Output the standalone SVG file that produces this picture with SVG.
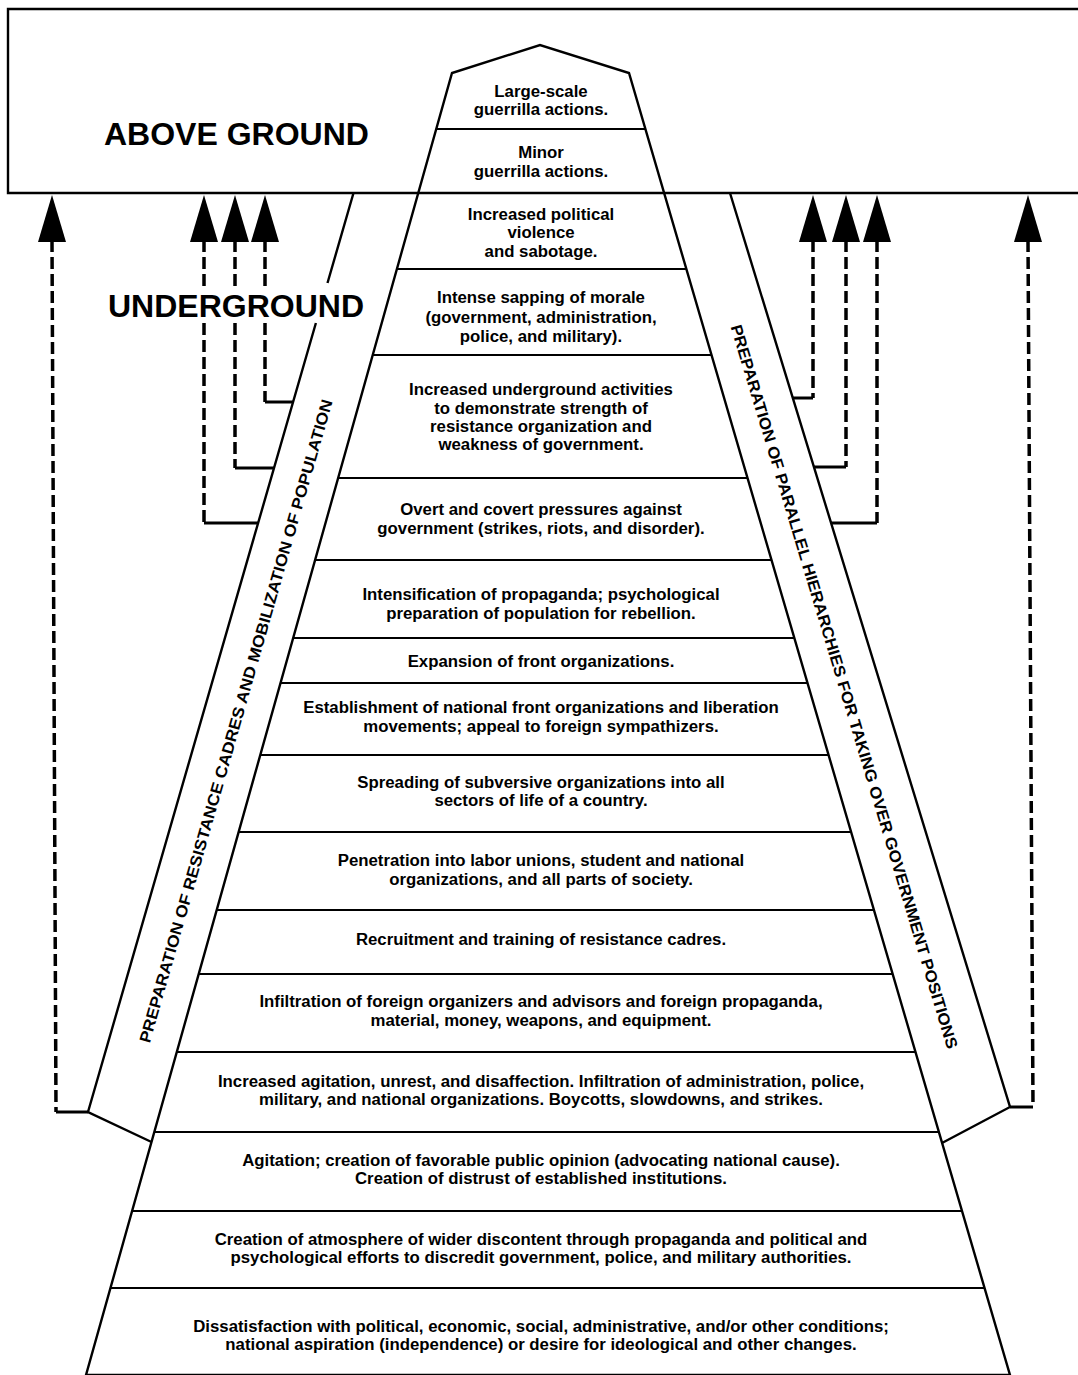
<svg xmlns="http://www.w3.org/2000/svg" width="1078" height="1375" viewBox="0 0 1078 1375">
<style>
.ln{fill:none;stroke:#000;stroke-width:2.4;stroke-linejoin:miter}
.row{stroke:#000;stroke-width:2}
.dash{fill:none;stroke:#000;stroke-width:3.5;stroke-dasharray:12 5}
.hz{fill:none;stroke:#000;stroke-width:3}
.t{font-family:"Liberation Sans",Arial,Helvetica,sans-serif;font-size:16.8px;font-weight:bold;text-anchor:middle;fill:#000}
.big{font-family:"Liberation Sans",Arial,Helvetica,sans-serif;font-size:32px;font-weight:bold;fill:#000}
.side{font-family:"Liberation Sans",Arial,Helvetica,sans-serif;font-size:16px;font-weight:bold;text-anchor:middle;fill:#000}
</style>
<defs>
<polygon id="head" points="0,0 -14,47 14,47" fill="#000"/>
</defs>
<rect width="1078" height="1375" fill="#fff"/>

<g id="above-ground">
<path class="ln" d="M1078,9 H8 V193 H1078"/>
<text class="big" x="104" y="145">ABOVE GROUND</text>
</g>

<g id="underground-label">
<text class="big" x="108" y="317">UNDERGROUND</text>
</g>

<g id="pyramid">
<polygon points="86,1375 452,73 540,45 629,73 1010,1375" class="ln" fill="#fff"/>
<line class="row" x1="436.3" y1="129" x2="645.4" y2="129"/>
<line class="row" x1="396.9" y1="269" x2="686.4" y2="269"/>
<line class="row" x1="372.7" y1="355" x2="711.5" y2="355"/>
<line class="row" x1="338.2" y1="478" x2="747.5" y2="478"/>
<line class="row" x1="315.1" y1="560" x2="771.5" y2="560"/>
<line class="row" x1="293.2" y1="638" x2="794.3" y2="638"/>
<line class="row" x1="280.5" y1="683" x2="807.5" y2="683"/>
<line class="row" x1="260.3" y1="755" x2="828.6" y2="755"/>
<line class="row" x1="238.6" y1="832" x2="851.1" y2="832"/>
<line class="row" x1="216.7" y1="910" x2="873.9" y2="910"/>
<line class="row" x1="198.7" y1="974" x2="892.6" y2="974"/>
<line class="row" x1="176.8" y1="1052" x2="915.5" y2="1052"/>
<line class="row" x1="154.3" y1="1132" x2="938.9" y2="1132"/>
<line class="row" x1="132.1" y1="1211" x2="962" y2="1211"/>
<line class="row" x1="110.5" y1="1288" x2="984.5" y2="1288"/>
</g>

<g id="stage-1"><text class="t" x="541" y="97">Large-scale</text><text class="t" x="541" y="115">guerrilla actions.</text></g>
<g id="stage-2"><text class="t" x="541" y="158">Minor</text><text class="t" x="541" y="177">guerrilla actions.</text></g>
<g id="stage-3"><text class="t" x="541" y="220">Increased political</text><text class="t" x="541" y="238">violence</text><text class="t" x="541" y="257">and sabotage.</text></g>
<g id="stage-4"><text class="t" x="541" y="303">Intense sapping of morale</text><text class="t" x="541" y="323">(government, administration,</text><text class="t" x="541" y="342">police, and military).</text></g>
<g id="stage-5"><text class="t" x="541" y="395">Increased underground activities</text><text class="t" x="541" y="414">to demonstrate strength of</text><text class="t" x="541" y="432">resistance organization and</text><text class="t" x="541" y="450">weakness of government.</text></g>
<g id="stage-6"><text class="t" x="541" y="515">Overt and covert pressures against</text><text class="t" x="541" y="534">government (strikes, riots, and disorder).</text></g>
<g id="stage-7"><text class="t" x="541" y="600">Intensification of propaganda; psychological</text><text class="t" x="541" y="619">preparation of population for rebellion.</text></g>
<g id="stage-8"><text class="t" x="541" y="667">Expansion of front organizations.</text></g>
<g id="stage-9"><text class="t" x="541" y="713">Establishment of national front organizations and liberation</text><text class="t" x="541" y="732">movements; appeal to foreign sympathizers.</text></g>
<g id="stage-10"><text class="t" x="541" y="788">Spreading of subversive organizations into all</text><text class="t" x="541" y="806">sectors of life of a country.</text></g>
<g id="stage-11"><text class="t" x="541" y="866">Penetration into labor unions, student and national</text><text class="t" x="541" y="885">organizations, and all parts of society.</text></g>
<g id="stage-12"><text class="t" x="541" y="945">Recruitment and training of resistance cadres.</text></g>
<g id="stage-13"><text class="t" x="541" y="1007">Infiltration of foreign organizers and advisors and foreign propaganda,</text><text class="t" x="541" y="1026">material, money, weapons, and equipment.</text></g>
<g id="stage-14"><text class="t" x="541" y="1087">Increased agitation, unrest, and disaffection. Infiltration of administration, police,</text><text class="t" x="541" y="1105">military, and national organizations. Boycotts, slowdowns, and strikes.</text></g>
<g id="stage-15"><text class="t" x="541" y="1166">Agitation; creation of favorable public opinion (advocating national cause).</text><text class="t" x="541" y="1184">Creation of distrust of established institutions.</text></g>
<g id="stage-16"><text class="t" x="541" y="1245">Creation of atmosphere of wider discontent through propaganda and political and</text><text class="t" x="541" y="1263">psychological efforts to discredit government, police, and military authorities.</text></g>
<g id="stage-17"><text class="t" x="541" y="1332">Dissatisfaction with political, economic, social, administrative, and/or other conditions;</text><text class="t" x="541" y="1350">national aspiration (independence) or desire for ideological and other changes.</text></g>

<g id="left-band">
<path class="ln" d="M353.5,193 L327.5,283 M315.9,323 L88,1112 L151.5,1142"/>
<text class="side" transform="translate(235.4,721) rotate(-74.1)" x="0" y="6" textLength="668" lengthAdjust="spacingAndGlyphs">PREPARATION OF RESISTANCE CADRES AND MOBILIZATION OF POPULATION</text>
</g>

<g id="right-band">
<path class="ln" d="M730,193 L1010,1107 L942,1143"/>
<text class="side" transform="translate(844.7,686.5) rotate(73.3)" x="0" y="6" textLength="755" lengthAdjust="spacingAndGlyphs">PREPARATION OF PARALLEL HIERARCHIES FOR TAKING OVER GOVERNMENT POSITIONS</text>
</g>

<g id="connectors">
<path class="dash" d="M52,240 L56,1112"/>
<path class="hz" d="M56,1112 H88"/>
<path class="dash" d="M204,240 V287 M204,323 V523"/>
<path class="hz" d="M204,523 H258"/>
<path class="dash" d="M235,240 V287 M235,323 V468"/>
<path class="hz" d="M235,468 H274"/>
<path class="dash" d="M265,240 V287 M265,323 V402"/>
<path class="hz" d="M265,402 H293"/>
<path class="dash" d="M813,240 V398"/>
<path class="hz" d="M813,398 H793"/>
<path class="dash" d="M846,240 V467"/>
<path class="hz" d="M846,467 H814"/>
<path class="dash" d="M877,240 V523"/>
<path class="hz" d="M877,523 H831"/>
<path class="dash" d="M1028,240 L1033,1107"/>
<path class="hz" d="M1033,1107 H1010"/>
<use href="#head" x="52" y="195"/>
<use href="#head" x="204" y="195"/>
<use href="#head" x="235" y="195"/>
<use href="#head" x="265" y="195"/>
<use href="#head" x="813" y="195"/>
<use href="#head" x="846" y="195"/>
<use href="#head" x="877" y="195"/>
<use href="#head" x="1028" y="195"/>
</g>
</svg>
